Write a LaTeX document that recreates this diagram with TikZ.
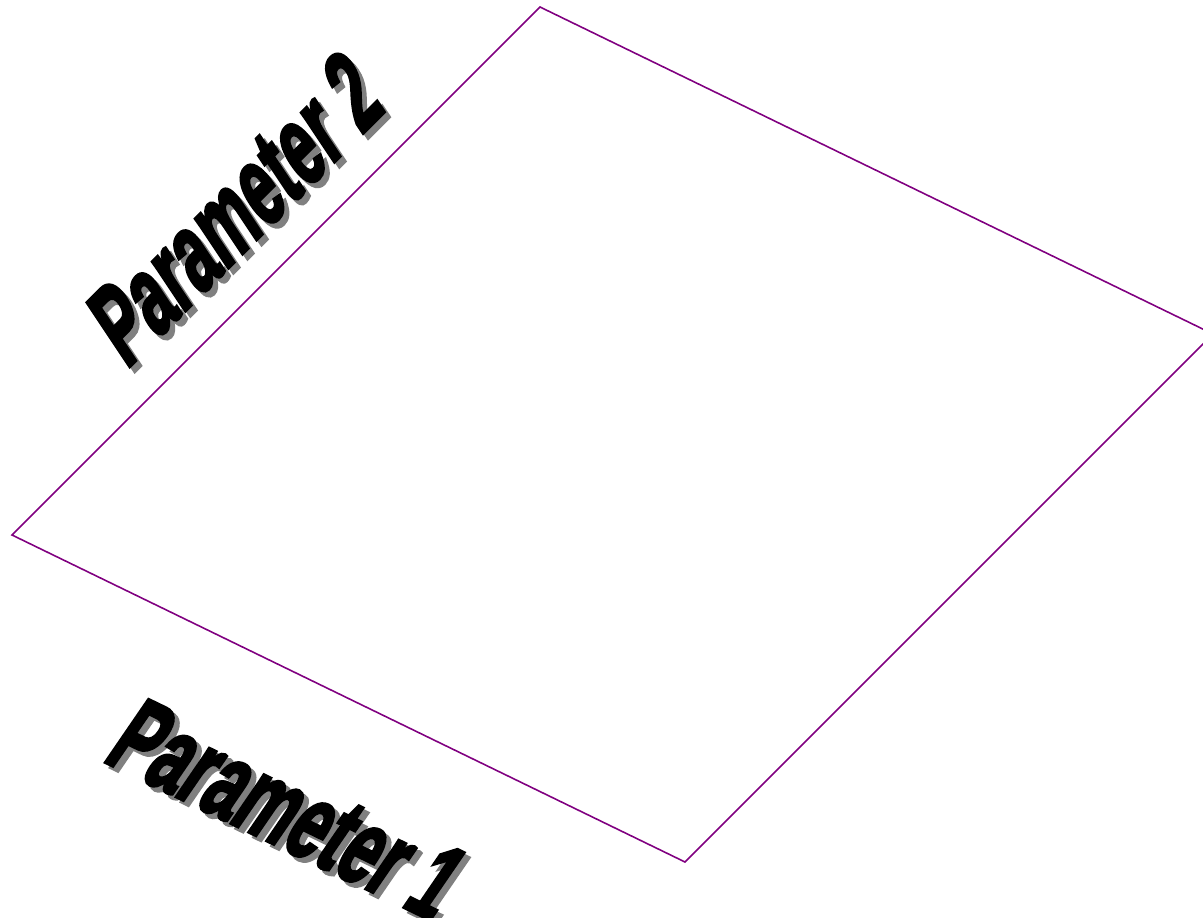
\documentclass[tikz,border=0pt]{standalone}
\usepackage{fontspec}
\usepackage{graphicx}
\setmainfont{Liberation Sans}
\newfontfamily\axfont[FakeBold=3.4]{Liberation Sans Bold}
\usetikzlibrary{calc}
\definecolor{plum}{RGB}{128,0,128}
\definecolor{shade}{RGB}{128,128,128}
\tikzset{
  side/.style={draw=plum,line width=0.9pt},
  axlabel/.style={inner sep=0pt,anchor=base west,font=\axfont\fontsize{62}{64}\selectfont},
  axshadow/.style={axlabel,text=shade},
  every node/.style={font=\small}
}
\newcommand{\axtext}[1]{\scalebox{0.59}[1]{#1}}

\begin{document}
\begin{tikzpicture}[x=0.02cm,y=-0.02cm]
\useasboundingbox (0,0) rectangle (1203,918);
\clip (0,0) rectangle (1203,918);

% corners of the plane
\coordinate (left) at (12,535);
\coordinate (top) at (540,7);
\coordinate (right) at (1213,334);
\coordinate (bottom) at (685,862);

% plane
\draw[side] (left) -- (top) -- (right) -- (bottom) -- cycle;

% axis labels (shadow first)
\node[axshadow,rotate=45,xslant=0.2] (ptwoshadow) at (131,375) {\axtext{Parameter 2}};
\node[axlabel,rotate=45,xslant=0.2] (ptwo) at (126,370) {\axtext{Parameter 2}};
\node[axshadow,rotate=-25.9,xslant=0.15] (poneshadow) at (106,765) {\axtext{Parameter 1}};
\node[axlabel,rotate=-25.9,xslant=0.15] (pone) at (101,760) {\axtext{Parameter 1}};
\end{tikzpicture}
\end{document}
